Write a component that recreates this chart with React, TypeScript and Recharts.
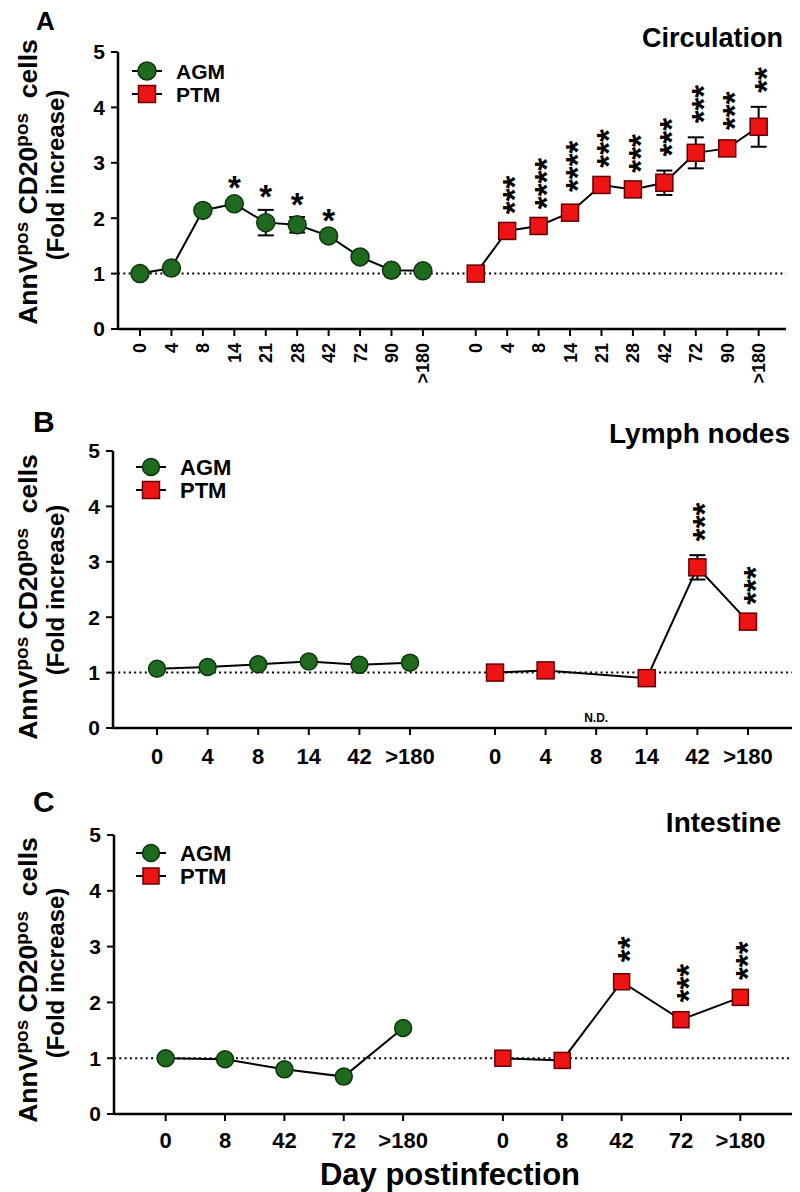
import React from 'react';
import { LineChart, Line, XAxis, YAxis, ErrorBar, ReferenceLine, ReferenceDot, LabelList } from 'recharts';

const FONT = '"Liberation Sans", Arial, Helvetica, sans-serif';
const GREEN = '#1f6a1f';
const GREEN_EDGE = '#0b360b';
const RED = '#ee1414';
const RED_EDGE = '#650000';

// ---------- Panel A : Circulation ----------
const daysA = ['0', '4', '8', '14', '21', '28', '42', '72', '90', '>180'];
const agmA = [1.0, 1.1, 2.14, 2.26, 1.92, 1.88, 1.68, 1.3, 1.06, 1.05];
const agmAErr = [0, 0, 0.05, 0.06, 0.23, 0.14, 0.05, 0.04, 0.03, 0.03];
const agmASig = ['', '', '', '*', '*', '*', '*', '', '', ''];
const ptmA = [1.0, 1.77, 1.86, 2.1, 2.6, 2.52, 2.64, 3.18, 3.26, 3.65];
const ptmAErr = [0, 0.05, 0.05, 0.12, 0.06, 0.05, 0.22, 0.28, 0.08, 0.36];
const ptmASig = ['', '***', '****', '****', '***', '***', '***', '***', '***', '**'];

// ---------- Panel B : Lymph nodes ----------
const daysB = ['0', '4', '8', '14', '42', '>180'];
const agmB = [1.07, 1.1, 1.15, 1.2, 1.14, 1.18];
const agmBErr = [0.03, 0.04, 0.06, 0.05, 0.04, 0.04];
const agmBSig = ['', '', '', '', '', ''];
const ptmB: (number | null)[] = [1.0, 1.04, null, 0.9, 2.9, 1.92];
const ptmBErr = [0.05, 0.05, 0, 0.06, 0.22, 0.05];
const ptmBSig = ['', '', '', '', '***', '***'];

// ---------- Panel C : Intestine ----------
const daysC = ['0', '8', '42', '72', '>180'];
const agmC = [1.0, 0.98, 0.8, 0.67, 1.54];
const agmCErr = [0.03, 0.04, 0.04, 0.04, 0.05];
const agmCSig = ['', '', '', '', ''];
const ptmC = [1.0, 0.96, 2.37, 1.69, 2.09];
const ptmCErr = [0.04, 0.05, 0.1, 0.06, 0.06];
const ptmCSig = ['', '', '**', '***', '***'];

const yTicks = [0, 1, 2, 3, 4, 5];
const GAP = 1.68;
const RIGHT_PAD = 0.87;

type Row = { x: number; y: number | null; err: number; top: number | null; sig: string };

const buildRows = (vals: (number | null)[], errs: number[], sigs: string[], offset: number): Row[] =>
  vals.map((v, i) => ({
    x: i + offset,
    y: v,
    err: errs[i],
    top: v == null ? null : v + errs[i],
    sig: sigs[i],
  }));

const STAR_FS = 33;

const Stars = (props: any) => {
  const { x, y, value } = props;
  if (!value || x == null || y == null) return null;
  const s = String(value);
  const bottom = y - 14;
  if (s.length === 1) {
    return (
      <text
        x={x}
        y={bottom - 6.4 + 0.575 * STAR_FS}
        textAnchor="middle"
        fontSize={STAR_FS}
        fontWeight={700}
        fontFamily={FONT}
        fill="#000"
      >
        {s}
      </text>
    );
  }
  return (
    <text
      x={x}
      y={bottom}
      dy="0.575em"
      transform={`rotate(-90, ${x}, ${bottom})`}
      textAnchor="start"
      fontSize={STAR_FS}
      fontWeight={700}
      fontFamily={FONT}
      fill="#000"
    >
      {s}
    </text>
  );
};

const circleDot = (r: number) => (p: any) => {
  if (p.cx == null || p.cy == null || p.value == null || Number.isNaN(p.cy))
    return <g key={`c${p.index}`} />;
  return (
    <circle key={`c${p.index}`} cx={p.cx} cy={p.cy} r={r} fill={GREEN} stroke={GREEN_EDGE} strokeWidth={1.5} />
  );
};

const squareDot = (s: number) => (p: any) => {
  if (p.cx == null || p.cy == null || p.value == null || Number.isNaN(p.cy))
    return <g key={`s${p.index}`} />;
  return (
    <rect
      key={`s${p.index}`}
      x={p.cx - s / 2}
      y={p.cy - s / 2}
      width={s}
      height={s}
      fill={RED}
      stroke={RED_EDGE}
      strokeWidth={1.5}
    />
  );
};

type PanelProps = {
  top: number;
  height: number;
  marginTop: number;
  marginRight: number;
  yAxisWidth: number;
  xAxisHeight: number;
  days: string[];
  agm: (number | null)[];
  agmErr: number[];
  agmSig: string[];
  ptm: (number | null)[];
  ptmErr: number[];
  ptmSig: string[];
  leftPad: number;
  rotated: boolean;
  tickFont: number;
  tickMargin: number;
  r: number;
  sq: number;
  nd?: number;
};

const Panel = (p: PanelProps) => {
  const n = p.days.length;
  const agmRows = buildRows(p.agm, p.agmErr, p.agmSig, 0);
  const ptmRows = buildRows(p.ptm, p.ptmErr, p.ptmSig, n - 1 + GAP);
  const ticks = [...agmRows.map((r) => r.x), ...ptmRows.map((r) => r.x)];
  const labels = [...p.days, ...p.days];
  const domain: [number, number] = [-p.leftPad, ptmRows[n - 1].x + RIGHT_PAD];

  const RotTick = (t: any) => {
    const label = labels[t.index] ?? '';
    return (
      <text
        x={t.x}
        y={t.y}
        dy="0.36em"
        transform={`rotate(-90, ${t.x}, ${t.y})`}
        textAnchor="end"
        fontSize={p.tickFont}
        fontWeight={700}
        fontFamily={FONT}
        fill="#000"
      >
        {label}
      </text>
    );
  };

  return (
    <div style={{ position: 'absolute', left: 0, top: p.top }}>
      <LineChart
        width={800}
        height={p.height}
        margin={{ top: p.marginTop, right: p.marginRight, left: 0, bottom: 0 }}
      >
        <XAxis
          type="number"
          dataKey="x"
          domain={domain}
          ticks={ticks}
          interval={0}
          allowDataOverflow
          height={p.xAxisHeight}
          tickSize={7}
          tickMargin={p.tickMargin}
          tickFormatter={(v: number) => labels[ticks.indexOf(v)] ?? ''}
          tick={
            p.rotated
              ? RotTick
              : { fontSize: p.tickFont, fontWeight: 700, fill: '#000', fontFamily: FONT }
          }
          axisLine={{ stroke: '#000', strokeWidth: 2.5 }}
          tickLine={{ stroke: '#000', strokeWidth: 2 }}
        />
        <YAxis
          type="number"
          domain={[0, 5]}
          ticks={yTicks}
          width={p.yAxisWidth}
          tickSize={7}
          tickMargin={6}
          tick={{ fontSize: 21, fontWeight: 700, fill: '#000', fontFamily: FONT }}
          axisLine={{ stroke: '#000', strokeWidth: 2.5 }}
          tickLine={{ stroke: '#000', strokeWidth: 2 }}
        />
        <ReferenceLine y={1} stroke="#000" strokeWidth={2} strokeDasharray="2 3.3" />
        {p.nd != null && (
          <ReferenceDot
            x={ptmRows[p.nd].x}
            y={0}
            r={0}
            fill="none"
            stroke="none"
            label={{
              value: 'N.D.',
              position: 'top',
              offset: 6,
              fontSize: 12,
              fontWeight: 700,
              fill: '#000',
              fontFamily: FONT,
            }}
          />
        )}
        <Line
          data={agmRows}
          dataKey="y"
          stroke="#000"
          strokeWidth={2}
          dot={circleDot(p.r)}
          activeDot={false}
          connectNulls
          isAnimationActive={false}
        >
          <ErrorBar dataKey="err" direction="y" width={8} stroke="#000" strokeWidth={2} />
        </Line>
        <Line
          data={ptmRows}
          dataKey="y"
          stroke="#000"
          strokeWidth={2}
          dot={squareDot(p.sq)}
          activeDot={false}
          connectNulls
          isAnimationActive={false}
        >
          <ErrorBar dataKey="err" direction="y" width={8} stroke="#000" strokeWidth={2} />
        </Line>
        <Line
          data={agmRows}
          dataKey="top"
          stroke="none"
          dot={false}
          activeDot={false}
          isAnimationActive={false}
        >
          <LabelList dataKey="sig" content={Stars} />
        </Line>
        <Line
          data={ptmRows}
          dataKey="top"
          stroke="none"
          dot={false}
          activeDot={false}
          isAnimationActive={false}
        >
          <LabelList dataKey="sig" content={Stars} />
        </Line>
      </LineChart>
    </div>
  );
};

const YTitle = ({ cy }: { cy: number }) => (
  <g fontFamily={FONT} fontWeight={700} fill="#000">
    <text transform={`translate(37, ${cy}) rotate(-90)`} textAnchor="middle" fontSize={26.5} xmlSpace="preserve">
      <tspan>AnnV</tspan>
      <tspan dy={-9} fontSize={19}>pos</tspan>
      <tspan dy={9}> CD20</tspan>
      <tspan dy={-9} fontSize={19}>pos</tspan>
      <tspan dy={9}>{'\u00A0\u00A0cells'}</tspan>
    </text>
    <text transform={`translate(64, ${cy - 7}) rotate(-90)`} textAnchor="middle" fontSize={24}>
      (Fold increase)
    </text>
  </g>
);

const LegendBox = ({ x, y, fs, r, sq }: { x: number; y: number; fs: number; r: number; sq: number }) => (
  <g fontFamily={FONT} fontWeight={700} fill="#000">
    <line x1={x - 15} x2={x + 15} y1={y} y2={y} stroke="#000" strokeWidth={2} />
    <circle cx={x} cy={y} r={r} fill={GREEN} stroke={GREEN_EDGE} strokeWidth={1.5} />
    <text x={x + 29} y={y + fs * 0.36} fontSize={fs}>AGM</text>
    <line x1={x - 15} x2={x + 15} y1={y + 23} y2={y + 23} stroke="#000" strokeWidth={2} />
    <rect x={x - sq / 2} y={y + 23 - sq / 2} width={sq} height={sq} fill={RED} stroke={RED_EDGE} strokeWidth={1.5} />
    <text x={x + 29} y={y + 23 + fs * 0.36} fontSize={fs}>PTM</text>
  </g>
);

export default function App() {
  return (
    <div
      style={{
        position: 'absolute',
        left: 0,
        top: 0,
        width: 800,
        height: 1192,
        background: '#fff',
        fontFamily: FONT,
        overflow: 'hidden',
      }}
    >
      <Panel
        top={0}
        height={390}
        marginTop={52}
        marginRight={14}
        yAxisWidth={118}
        xAxisHeight={61}
        days={daysA}
        agm={agmA}
        agmErr={agmAErr}
        agmSig={agmASig}
        ptm={ptmA}
        ptmErr={ptmAErr}
        ptmSig={ptmASig}
        leftPad={0.7}
        rotated
        tickFont={18}
        tickMargin={7}
        r={9}
        sq={17}
      />
      <Panel
        top={380}
        height={400}
        marginTop={71}
        marginRight={8}
        yAxisWidth={113}
        xAxisHeight={52}
        days={daysB}
        agm={agmB}
        agmErr={agmBErr}
        agmSig={agmBSig}
        ptm={ptmB}
        ptmErr={ptmBErr}
        ptmSig={ptmBSig}
        leftPad={0.87}
        rotated={false}
        tickFont={22}
        tickMargin={13}
        r={8.5}
        sq={17}
        nd={2}
      />
      <Panel
        top={770}
        height={422}
        marginTop={65}
        marginRight={8}
        yAxisWidth={114}
        xAxisHeight={78}
        days={daysC}
        agm={agmC}
        agmErr={agmCErr}
        agmSig={agmCSig}
        ptm={ptmC}
        ptmErr={ptmCErr}
        ptmSig={ptmCSig}
        leftPad={0.87}
        rotated={false}
        tickFont={22}
        tickMargin={11}
        r={8.5}
        sq={16}
      />
      <svg
        width={800}
        height={1192}
        style={{ position: 'absolute', left: 0, top: 0, pointerEvents: 'none' }}
      >
        <g fontFamily={FONT} fontWeight={700} fill="#000">
          <text x={36} y={30} fontSize={26}>A</text>
          <text x={33} y={432} fontSize={30}>B</text>
          <text x={33} y={812} fontSize={30}>C</text>
          <text x={783} y={47} fontSize={27} textAnchor="end">Circulation</text>
          <text x={790} y={443} fontSize={28} textAnchor="end">Lymph nodes</text>
          <text x={781} y={832} fontSize={28} textAnchor="end">Intestine</text>
          <text x={450} y={1185} fontSize={31} textAnchor="middle">Day postinfection</text>
        </g>
        <YTitle cy={182} />
        <YTitle cy={597} />
        <YTitle cy={980} />
        <LegendBox x={147} y={71} fs={21} r={9} sq={17} />
        <LegendBox x={151} y={467} fs={22} r={8.5} sq={17} />
        <LegendBox x={151} y={853} fs={22} r={8.5} sq={16} />
      </svg>
    </div>
  );
}
